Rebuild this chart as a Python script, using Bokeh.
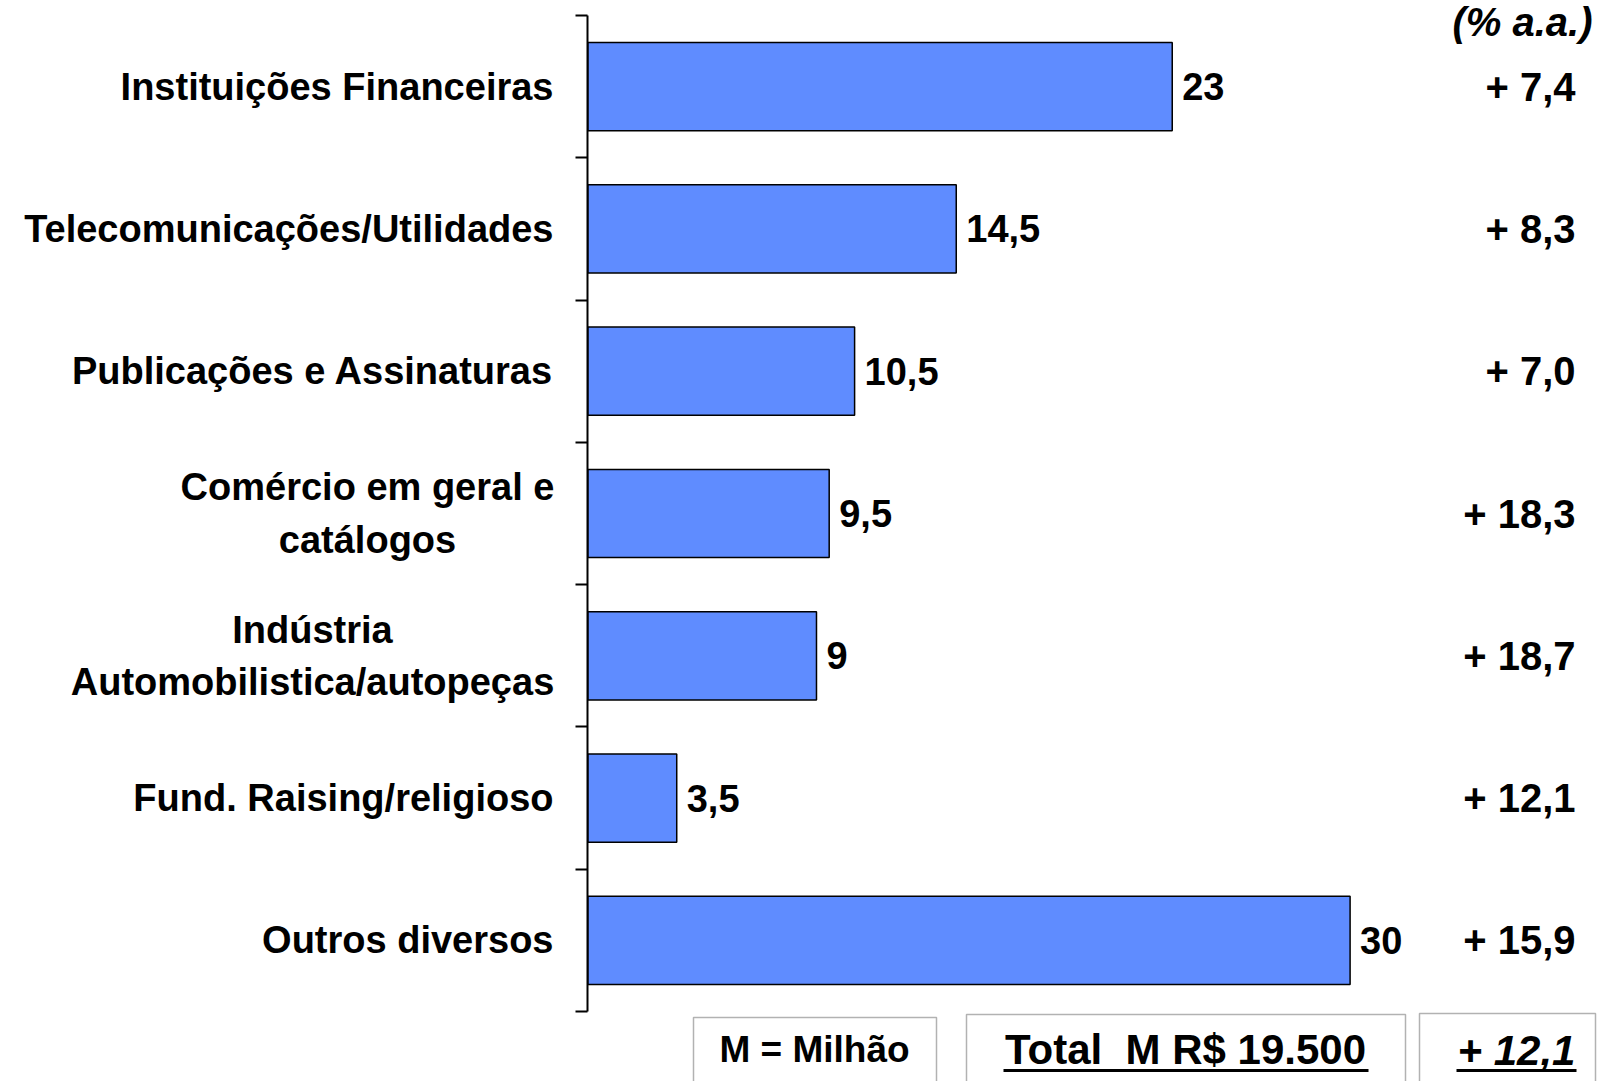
from bokeh.plotting import figure
from bokeh.models import Range1d, LinearAxis, FixedTicker, BoxAnnotation
from bokeh.core.properties import value
from bokeh.embed import file_html
from bokeh.resources import INLINE

# ---------------- data ----------------
categories = [
    "Instituições Financeiras",
    "Telecomunicações/Utilidades",
    "Publicações e Assinaturas",
    "Comércio em geral e\ncatálogos",
    "Indústria\nAutomobilistica/autopeças",
    "Fund. Raising/religioso",
    "Outros diversos",
]
shares = [23, 14.5, 10.5, 9.5, 9, 3.5, 30]
share_labels = ["23", "14,5", "10,5", "9,5", "9", "3,5", "30"]
growth = [7.4, 8.3, 7.0, 18.3, 18.7, 12.1, 15.9]
growth_header = "(% a.a.)"
unit_note = "M = Milhão"
total_text = "Total\u00a0 M R$ 19.500"
total_growth = 12.1

# ---------------- layout (canvas pixels) ----------------
W, H = 1597, 1081
X0, XS = 587.3, 25.41     # canvas x of value 0, pixels per unit
Y0, YS = 15.0, 142.29     # canvas y of first band edge, pixels per band
# centre x of the two-line labels (lines are centred on each other)
MULTI_CENTER = {3: 367, 4: 312}


def dx(px):
    return (px - X0) / XS


def dy(py):
    return (py - Y0) / YS


FONT = value("Arial")
BAR_COLOR = "#5f8cff"

pos = [i + 0.5 for i in range(len(categories))]

p = figure(
    width=W, height=H,
    x_range=Range1d(dx(0), dx(W)),
    y_range=Range1d(dy(H), dy(0)),
    x_axis_type=None, y_axis_type=None,
    output_backend="svg", toolbar_location=None,
    min_border=0,
)
p.outline_line_color = None
p.background_fill_color = "white"
p.border_fill_color = "white"

# bars
p.hbar(y=pos, left=0, right=shares, height=0.62,
       fill_color=BAR_COLOR, line_color="black", line_width=1.5)

# category axis (ticks at band edges)
yax = LinearAxis(
    fixed_location=0,
    ticker=FixedTicker(ticks=list(range(len(categories) + 1))),
    bounds=(0, len(categories)),
    major_tick_out=12, major_tick_in=0,
    minor_tick_out=0, minor_tick_in=0,
    major_label_text_font_size="0px",
    major_label_text_alpha=0,
    axis_line_width=2, major_tick_line_width=2,
    axis_line_color="black", major_tick_line_color="black",
)
p.add_layout(yax, "left")

label_style = dict(text_baseline="middle", text_font=FONT, text_font_style="bold",
                   text_font_size="38px", text_color="black", text_line_height=1.25)

# single-line category labels (right aligned)
single = [i for i in range(len(categories)) if i not in MULTI_CENTER]
p.text(x=[dx(553)] * len(single), y=[pos[i] for i in single],
       text=[categories[i] for i in single], text_align="right", **label_style)
# two-line category labels (centred lines)
multi = sorted(MULTI_CENTER)
p.text(x=[dx(MULTI_CENTER[i]) for i in multi], y=[pos[i] for i in multi],
       text=[categories[i] for i in multi], text_align="center", **label_style)

# value labels
p.text(x=[s + 10 / XS for s in shares], y=pos, text=share_labels,
       text_align="left", text_baseline="middle",
       text_font=FONT, text_font_style="bold", text_font_size="38px",
       text_color="black")

# growth labels
growth_labels = ["+ " + f"{g:.1f}".replace(".", ",") for g in growth]
p.text(x=[dx(1575)] * len(growth), y=pos, text=growth_labels,
       text_align="right", text_baseline="middle",
       text_font=FONT, text_font_style="bold", text_font_size="40px",
       text_color="black")

# header
p.text(x=[dx(1592)], y=[dy(21)], text=[growth_header],
       text_align="right", text_baseline="middle",
       text_font=FONT, text_font_style="bold italic", text_font_size="40px",
       text_color="black")

# bottom boxes
for l, r, t in [(693, 936, 1017), (966, 1405, 1014), (1419, 1595, 1013)]:
    p.add_layout(BoxAnnotation(left=dx(l), right=dx(r), top=dy(t), bottom=dy(H + 40),
                               fill_alpha=0, fill_color=None,
                               line_color="black", line_width=1.5))

p.text(x=[dx(814)], y=[dy(1049)], text=[unit_note],
       text_align="center", text_baseline="middle",
       text_font=FONT, text_font_style="bold", text_font_size="37px", text_color="black")
p.text(x=[dx(1185)], y=[dy(1049)], text=[total_text],
       text_align="center", text_baseline="middle",
       text_font=FONT, text_font_style="bold", text_font_size="42px", text_color="black")
total_growth_label = "+ " + f"{total_growth:.1f}".replace(".", ",")
p.text(x=[dx(1516)], y=[dy(1050)], text=[total_growth_label],
       text_align="center", text_baseline="middle",
       text_font=FONT, text_font_style="bold italic", text_font_size="42px", text_color="black")

# underlines
p.segment(x0=[dx(1003), dx(1456)], y0=[dy(1070)] * 2,
          x1=[dx(1368), dx(1576)], y1=[dy(1070)] * 2,
          line_color="black", line_width=3)

open("out.html", "w").write(file_html(p, INLINE))
